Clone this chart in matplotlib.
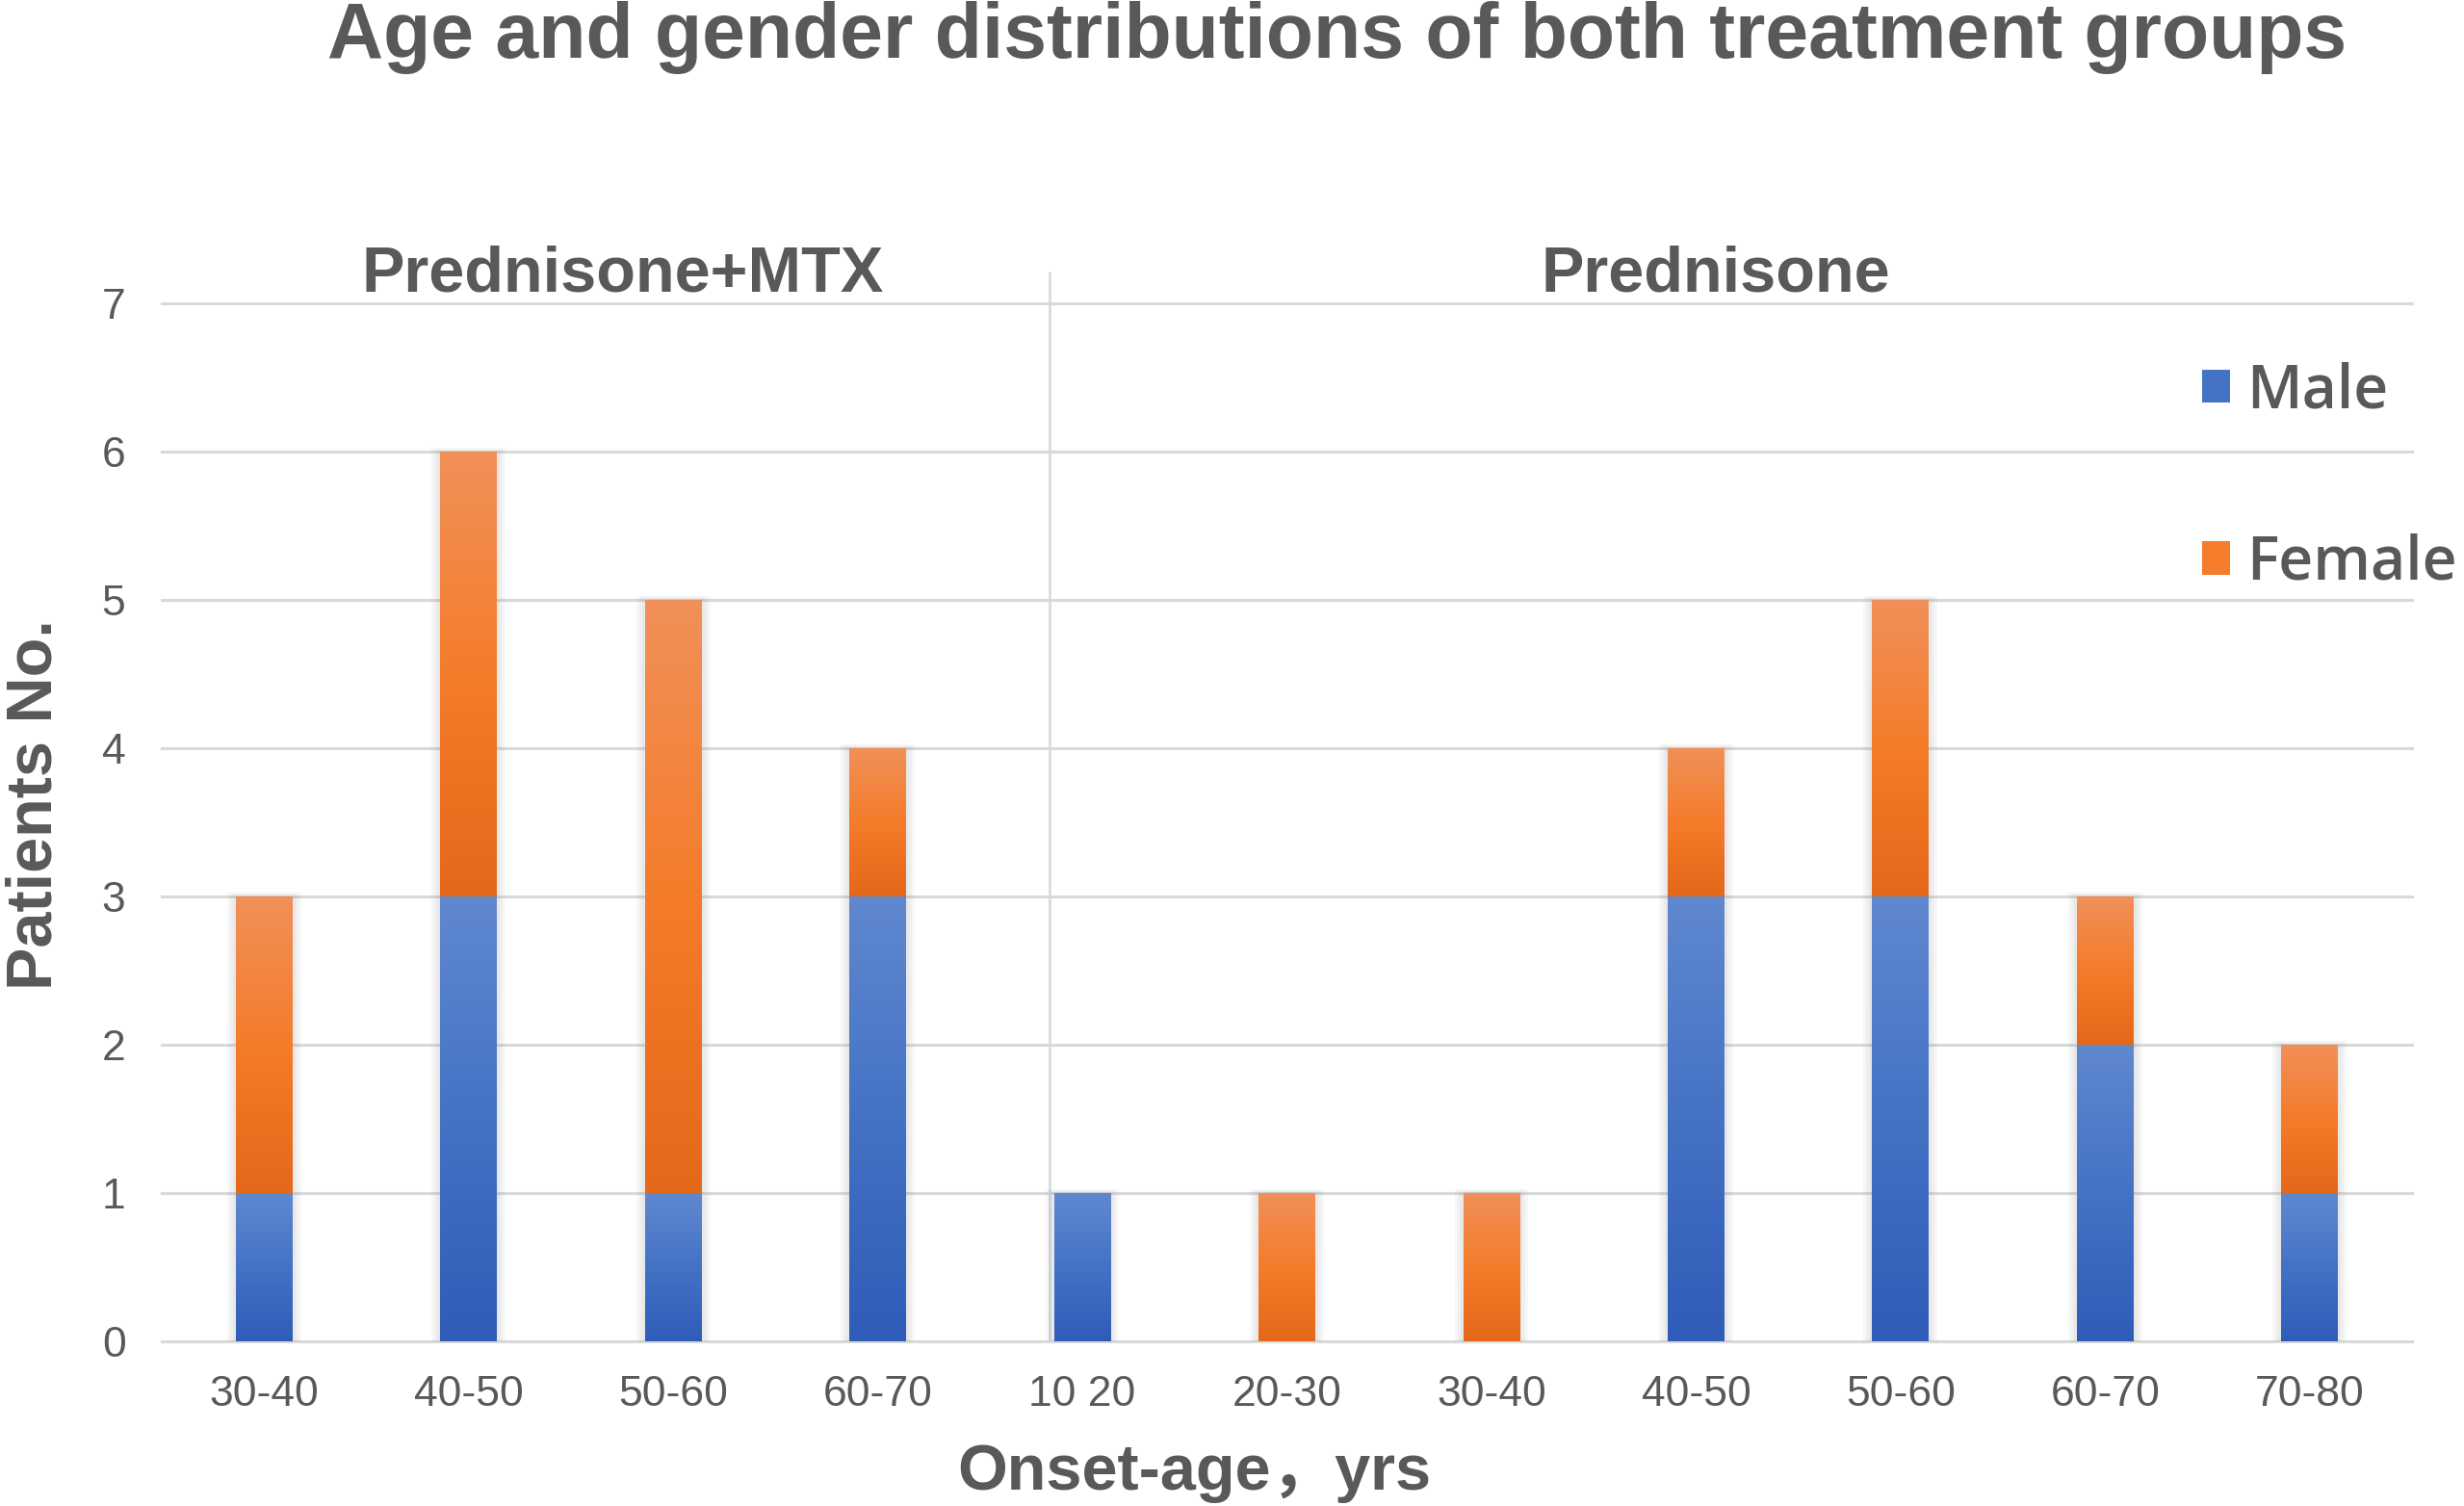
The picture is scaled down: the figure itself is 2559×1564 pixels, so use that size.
import numpy as np
import matplotlib
matplotlib.use('Agg')
import matplotlib.pyplot as plt
from matplotlib.colors import LinearSegmentedColormap
from matplotlib.patches import Rectangle

# datos
age_groups = ['30-40', '40-50', '50-60', '60-70', '10 20', '20-30',
              '30-40', '40-50', '50-60', '60-70', '70-80']
male = [1, 3, 1, 3, 1, 0, 0, 3, 3, 2, 1]
female = [2, 3, 4, 1, 0, 1, 1, 1, 2, 1, 1]
group_names = ['Prednisone+MTX', 'Prednisone']
group_label_x = [1.754, 7.095]
group_divider = 3.84

GRAY = '#595959'
blue_cmap = LinearSegmentedColormap.from_list('b', ['#6088d0', '#4472c4', '#2f5cb8'])
orange_cmap = LinearSegmentedColormap.from_list('o', ['#f19059', '#f47c2a', '#e4681a'])

plt.rcParams['font.family'] = ['Liberation Sans', 'Noto Sans CJK SC']

W, H = 2559, 1564
fig = plt.figure(figsize=(W / 100, H / 100), dpi=100)
ax = fig.add_axes([168 / W, 1 - 1393 / H, 2337 / W, 1155 / H])

x = np.arange(len(age_groups))
bw = 0.277
bars_m = ax.bar(x, male, width=bw, color='#4472c4', zorder=2, label='Male')
bars_f = ax.bar(x, female, width=bw, bottom=male, color='#f47c2a', zorder=2, label='Female')

# sombra suave alrededor de cada columna
px_x = 1 / 212.5
px_y = 1 / 154.0
for xi, m, f in zip(x, male, female):
    tot = m + f
    for k in (3, 6, 9):
        ax.add_patch(Rectangle((xi - bw / 2 - k * px_x, 0), bw + 2 * k * px_x, tot + k * px_y * 0.5,
                               facecolor='#7f7f7f', alpha=0.06, edgecolor='none', zorder=1.5))

# degradado dentro de cada segmento
grad = np.linspace(0, 1, 256).reshape(-1, 1)
for bars, cmap in ((bars_m, blue_cmap), (bars_f, orange_cmap)):
    for r in bars:
        if r.get_height() <= 0:
            continue
        x0, y0 = r.get_x(), r.get_y()
        ax.imshow(grad, cmap=cmap, extent=(x0, x0 + r.get_width(), y0, y0 + r.get_height()),
                  aspect='auto', origin='upper', interpolation='bicubic', zorder=3)

ax.set_xlim(-0.5, len(age_groups) - 0.5)
ax.set_ylim(0, 7.5)
ax.set_yticks(range(0, 8))
ax.set_xticks(x)
ax.set_xticklabels(age_groups)
ax.tick_params(axis='both', length=0, labelsize=32, labelcolor=GRAY)
ax.tick_params(axis='x', pad=25)
ax.tick_params(axis='y', pad=27)
for s in ax.spines.values():
    s.set_visible(False)
ax.yaxis.grid(True, color='#d9d9d9', linewidth=2.2, zorder=0)
ax.set_axisbelow(True)
for gl in ax.get_ygridlines():
    gl.set_clip_on(False)

# separador entre grupos y nombres de grupo
ax.plot([group_divider, group_divider], [0, 7.21], color='#d0d8e4', linewidth=1.8, zorder=1)
for name, gx in zip(group_names, group_label_x):
    ax.text(gx, 7.08, name, ha='center', va='baseline', fontsize=48,
            fontweight='bold', color=GRAY)

ax.set_xlabel('Onset-age，yrs', fontsize=48, fontweight='bold', color=GRAY, va='baseline')
ax.xaxis.set_label_coords(0.4587, -0.1333)
ax.set_ylabel('Patients No.', fontsize=48, fontweight='bold', color=GRAY, va='baseline')
ax.yaxis.set_label_coords(-0.0488, 0.4823)

fig.text(1389 / W, 1 - 60 / H, 'Age and gender distributions of both treatment groups',
         ha='center', va='baseline', fontsize=58, fontweight='bold', color=GRAY)

leg = ax.legend(handles=[bars_m, bars_f], labels=['Male', 'Female'],
                loc='center left', bbox_to_anchor=(2287 / W, 1 - 496 / H),
                bbox_transform=fig.transFigure, frameon=False,
                prop={'family': 'Open Sans', 'size': 45, 'weight': 'semibold'},
                handlelength=0.47, handleheight=0.47, handletextpad=0.27,
                labelspacing=1.85, borderpad=0, borderaxespad=0)
for t in leg.get_texts():
    t.set_color(GRAY)

fig.savefig('out.png', dpi=100)
